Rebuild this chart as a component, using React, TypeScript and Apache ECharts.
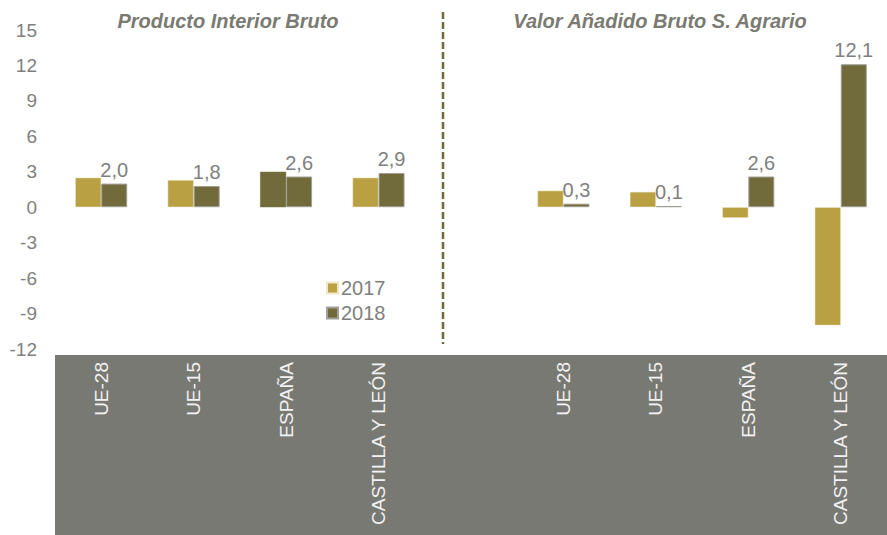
import React, { useEffect, useRef } from "react";
import * as echarts from "echarts";

const categories = ["UE-28", "UE-15", "ESPAÑA", "CASTILLA Y LEÓN", "", "UE-28", "UE-15", "ESPAÑA", "CASTILLA Y LEÓN"];
const values2017 = [2.5, 2.3, 3.0, 2.5, null, 1.4, 1.3, -0.9, -10.0];
const values2018 = [2.0, 1.8, 2.6, 2.9, null, 0.3, 0.1, 2.6, 12.1];
const seriesNames = ["2017", "2018"];
const panelTitles = ["Producto Interior Bruto", "Valor Añadido Bruto S. Agrario"];

const GOLD = "#b9a043";
const OLIVE = "#716a3a";
const FONT = "Liberation Sans, Arial, sans-serif";

export default function App() {
  const ref = useRef<HTMLDivElement>(null);
  useEffect(() => {
    if (!ref.current) return;
    const chart = echarts.init(ref.current, undefined, { renderer: "svg" });
    const data2017 = values2017.map((v, i) =>
      i === 2 ? { value: v, itemStyle: { color: OLIVE, borderColor: OLIVE } } : v
    );
    chart.setOption({
      animation: false,
      textStyle: { fontFamily: FONT },
      grid: { left: 55, right: 0, top: 30, bottom: 186, containLabel: false },
      graphic: [
        {
          type: "rect",
          z: -10,
          shape: { x: 55, y: 355, width: 832, height: 180 },
          style: { fill: "#797973" },
        },
        {
          type: "line",
          shape: { x1: 443, y1: 12, x2: 443, y2: 344 },
          style: { stroke: OLIVE, lineWidth: 2.5, lineDash: [7, 3] },
        },
        {
          type: "text",
          x: 228,
          y: 21,
          style: {
            text: panelTitles[0],
            fill: "#7a7a72",
            font: "italic bold 20px " + FONT,
            align: "center",
            verticalAlign: "middle",
          },
        },
        {
          type: "text",
          x: 660,
          y: 21,
          style: {
            text: panelTitles[1],
            fill: "#7a7a72",
            font: "italic bold 20px " + FONT,
            align: "center",
            verticalAlign: "middle",
          },
        },
      ],
      legend: {
        orient: "vertical",
        left: 321,
        top: 273,
        icon: "rect",
        itemWidth: 11,
        itemHeight: 11,
        itemGap: 5,
        textStyle: { color: "#7f7f7f", fontSize: 20, fontFamily: FONT, padding: [0, 0, 0, -2] },
        data: seriesNames,
      },
      xAxis: {
        type: "category",
        data: categories,
        axisLine: { show: false, onZero: false },
        axisTick: { show: false },
        axisLabel: {
          interval: 0,
          rotate: 90,
          margin: 13,
          color: "#f2f2f2",
          fontSize: 19,
          fontFamily: FONT,
        },
      },
      yAxis: {
        type: "value",
        min: -12,
        max: 15,
        interval: 3,
        splitLine: { show: false },
        axisLine: { show: false },
        axisTick: { show: false },
        axisLabel: { color: "#7f7f7f", fontSize: 19, margin: 18, fontFamily: FONT },
      },
      series: [
        {
          name: seriesNames[0],
          type: "bar",
          barWidth: 26,
          barGap: "0%",
          data: data2017,
          itemStyle: { color: GOLD, borderColor: "#efe7c6", borderWidth: 0.5 },
        },
        {
          name: seriesNames[1],
          type: "bar",
          barWidth: 26,
          barGap: "0%",
          data: values2018,
          itemStyle: { color: OLIVE, borderColor: "#a09f98", borderWidth: 1 },
          label: {
            show: true,
            position: "top",
            distance: 4,
            color: "#7f7f7f",
            fontSize: 20,
            fontFamily: FONT,
            formatter: (p: any) => Number(p.value).toFixed(1).replace(".", ","),
          },
        },
      ],
    });
    return () => chart.dispose();
  }, []);
  return (
    <div
      ref={ref}
      style={{ position: "absolute", left: 0, top: 0, width: 887, height: 535 }}
    />
  );
}
